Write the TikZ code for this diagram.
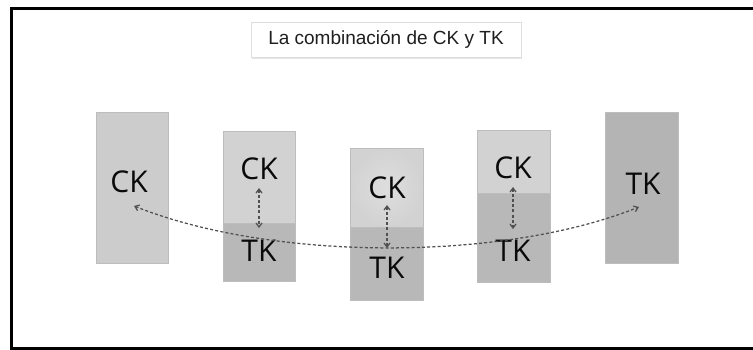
\documentclass[tikz,border=0pt]{standalone}
\usepackage{fontspec}
\setmainfont{Open Sans}
\newfontfamily\titlefont{Liberation Sans}
\usetikzlibrary{arrows.meta}
\definecolor{gA}{HTML}{CCCCCC}
\definecolor{gB}{HTML}{B4B4B4}
\definecolor{gTop}{HTML}{D2D2D2}
\definecolor{gBot}{HTML}{B8B8B8}
\definecolor{edge}{HTML}{BDBDBD}
\definecolor{dash}{HTML}{505050}
\definecolor{txt}{HTML}{0A0A0A}
\tikzset{
  blk/.style={draw=edge, line width=0.6pt, inner sep=0pt, rectangle},
  lbl/.style={font=\fontsize{30}{31}\selectfont, text=txt, inner sep=0pt, anchor=base},
  dasharrow/.style={draw=dash, line width=1.25pt, dash pattern=on 3pt off 2.2pt,
    {Straight Barb[length=4pt,width=6pt]}-{Straight Barb[length=4pt,width=6pt]}},
  titlebox/.style={draw=black!13, fill=white, line width=0.8pt, minimum width=270pt,
    minimum height=35pt, inner sep=0pt, font=\titlefont\fontsize{19}{20}\selectfont, text=black!88}
}
\begin{document}
\begin{tikzpicture}[x=1pt,y=-1pt]
\useasboundingbox (0,0) rectangle (753,349);
\clip (0,0) rectangle (753,349);
\fill[white] (0,0) rectangle (753,349);
\draw[line width=3pt] (11.5,8.2) rectangle (760,348.3);
% title
\fill[black!10] (252,24) rectangle (522,58.5);
\node[titlebox] (title) at (386,39.5) {La combinación de CK y TK};
% boxes
\node[blk, fill=gA, minimum width=72pt, minimum height=151pt] (b1) at (132,187.5) {};
\node[blk, fill=gB, minimum width=73pt, minimum height=151pt] (b5) at (641.5,187.5) {};
\node[blk, fill=gTop, minimum width=72pt, minimum height=92pt] (b2t) at (259,177) {};
\node[blk, fill=gBot, minimum width=72pt, minimum height=58pt] (b2b) at (259,252) {};
\node[blk, inner color=black!13, outer color=gTop, minimum width=73pt, minimum height=79pt] (b3t) at (386.5,187.5) {};
\node[blk, fill=gBot, minimum width=73pt, minimum height=73pt] (b3b) at (386.5,263.5) {};
\node[blk, fill=gTop, minimum width=73pt, minimum height=63pt] (b4t) at (513.5,161.5) {};
\node[blk, fill=gBot, minimum width=73pt, minimum height=89pt] (b4b) at (513.5,237.5) {};
% labels
\node[lbl] (l1) at (129,192) {CK};
\node[lbl] (l5) at (643,194) {TK};
\node[lbl] (l2c) at (259,179) {CK};
\node[lbl] (l2t) at (259,261) {TK};
\node[lbl] (l3c) at (387,198) {CK};
\node[lbl] (l3t) at (387,278) {TK};
\node[lbl] (l4c) at (513,178) {CK};
\node[lbl] (l4t) at (513,261) {TK};
% arrow end points
\coordinate (pL) at (134,206);
\coordinate (pR) at (639,207);
\coordinate (a2) at (259,188);
\coordinate (c2) at (259,228);
\coordinate (a3) at (387,205);
\coordinate (c3) at (387,248);
\coordinate (a4) at (513,187);
\coordinate (c4) at (513,229);
\draw[dasharrow] (pL) .. controls (272,261) and (501,262) .. (pR);
\draw[dasharrow] (a2) -- (c2);
\draw[dasharrow] (a3) -- (c3);
\draw[dasharrow] (a4) -- (c4);
\end{tikzpicture}
\end{document}
